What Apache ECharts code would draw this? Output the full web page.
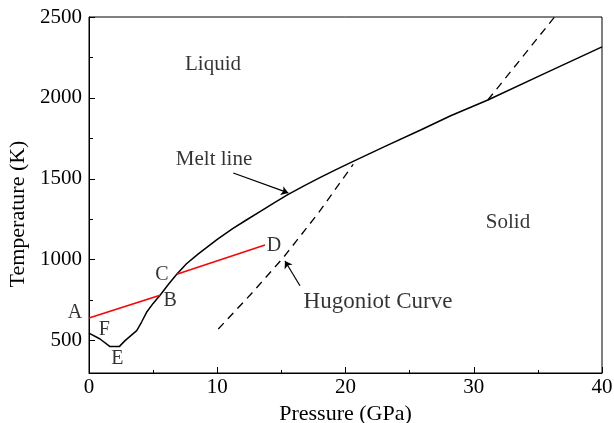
<!DOCTYPE html>
<html>
<head>
<meta charset="utf-8">
<script src="https://cdn.jsdelivr.net/npm/echarts@6/dist/echarts.min.js"></script>
<style>
  html, body { margin: 0; padding: 0; background: #fff; }
  #chart { width: 614px; height: 423px; }
</style>
</head>
<body>
<div id="chart"></div>
<script>
// melt line (pressure GPa, temperature K)
const meltLine = [
    [0, 546], [0.86, 510], [1.64, 463], [2.36, 463], [2.81, 500], [3.72, 562],
    [4.1, 615], [4.49, 675], [5.0, 730], [5.54, 781], [6.2, 848], [6.84, 910],
    [7.6, 975], [8.5, 1035], [10, 1126], [11.2, 1192], [12.3, 1247], [13.3, 1296],
    [14.4, 1350], [15.5, 1402], [16.8, 1458], [18, 1507], [19.3, 1558], [20.6, 1608],
    [23, 1697], [25.9, 1803], [28.2, 1890], [31.1, 1987], [35.5, 2150], [40, 2315]
];
// red segments A-B and C-D
const lineAB = [[0, 640], [5.54, 781]];
const lineCD = [[6.84, 910], [13.72, 1091]];
// Hugoniot curve, dashed parts
const hugoniotLow = [[10.08, 572], [12.6, 785], [15.15, 1013], [17.9, 1290], [20.6, 1590]];
const hugoniotHigh = [[31.1, 1987], [36.3, 2500]];
// annotation arrows [from, to]
const meltArrow = [[11.25, 1536], [15.54, 1413]];
const hugArrow = [[16.45, 839], [15.28, 992]];
// text labels [x, y, text, fontSize]
const textLabels = [
    [9.67, 2209, 'Liquid', 21],
    [32.67, 1230, 'Solid', 21],
    [9.75, 1618, 'Melt line', 21],
    [22.53, 738, 'Hugoniot Curve', 23],
    [-1.09, 670, 'A', 20],
    [1.19, 566, 'F', 20],
    [2.22, 387, 'E', 20],
    [6.32, 744, 'B', 20],
    [5.69, 907, 'C', 20],
    [14.43, 1085, 'D', 20]
];
// y ticks
const yMajor = [500, 1000, 1500, 2000, 2500];
const yMinor = [750, 1250, 1750, 2250];

const font = 'Liberation Serif';

function initChart() {
    const dom = document.getElementById('chart');
    const chart = echarts.init(dom);

    const option = {
        animation: false,
        backgroundColor: '#fff',
        grid: {
            left: 89, right: 12, top: 17, bottom: 50,
            containLabel: false,
            outerBoundsMode: 'none',
            show: true, borderColor: '#000', borderWidth: 1
        },
        xAxis: {
            type: 'value',
            min: 0, max: 40, interval: 10,
            name: 'Pressure (GPa)',
            nameLocation: 'middle',
            nameGap: 24,
            nameTextStyle: { fontFamily: font, fontSize: 22, color: '#000' },
            axisLine: { lineStyle: { color: '#000', width: 1 } },
            axisTick: { inside: true, length: 6, lineStyle: { color: '#000' } },
            minorTick: { show: true, splitNumber: 2, length: 3, lineStyle: { color: '#000' } },
            axisLabel: { fontFamily: font, fontSize: 21, color: '#000', margin: 4 },
            splitLine: { show: false }
        },
        yAxis: [{
            type: 'value',
            min: 300, max: 2500,
            name: 'Temperature (K)',
            nameLocation: 'middle',
            nameGap: 51,
            nameTextStyle: { fontFamily: font, fontSize: 22, color: '#000', padding: [0, 38, 0, 0] },
            axisLine: { show: true, lineStyle: { color: '#000', width: 1 } },
            axisTick: { inside: true, length: 6, customValues: yMajor, lineStyle: { color: '#000' } },
            axisLabel: {
                fontFamily: font, fontSize: 21, color: '#000', margin: 7,
                customValues: yMajor,
                formatter: v => String(v)
            },
            splitLine: { show: false }
        }, {
            type: 'value',
            min: 300, max: 2500,
            position: 'left',
            offset: 0,
            axisLine: { show: false },
            axisTick: { show: true, inside: true, length: 4, customValues: yMinor, lineStyle: { color: '#000' } },
            axisLabel: { show: false },
            splitLine: { show: false }
        }],
        series: [
            {
                type: 'line', data: meltLine, symbol: 'none',
                lineStyle: { color: '#000', width: 1.5 },
                markLine: {
                    silent: true,
                    symbol: ['none', 'arrow'],
                    symbolSize: 7,
                    label: { show: false },
                    lineStyle: { color: '#000', width: 1.2, type: 'solid' },
                    data: [
                        [{ coord: meltArrow[0] }, { coord: meltArrow[1] }],
                        [{ coord: hugArrow[0] }, { coord: hugArrow[1] }]
                    ]
                }
            },
            {
                type: 'line', data: lineAB, symbol: 'none',
                lineStyle: { color: '#ff0000', width: 1.5 }
            },
            {
                type: 'line', data: lineCD, symbol: 'none',
                lineStyle: { color: '#ff0000', width: 1.5 }
            },
            {
                type: 'line', data: hugoniotLow, symbol: 'none',
                lineStyle: { color: '#000', width: 1.3, type: [8, 6] }
            },
            {
                type: 'line', data: hugoniotHigh, symbol: 'none',
                lineStyle: { color: '#000', width: 1.3, type: [8, 6] }
            },
            {
                type: 'scatter',
                symbolSize: 0,
                clip: false,
                silent: true,
                data: textLabels.map(t => ({
                    value: [t[0], t[1]],
                    label: {
                        show: true,
                        position: 'inside',
                        formatter: t[2],
                        fontFamily: font,
                        fontSize: t[3],
                        color: '#000'
                    }
                }))
            }
        ]
    };

    chart.setOption(option);
}

document.addEventListener('DOMContentLoaded', initChart);
</script>
</body>
</html>
